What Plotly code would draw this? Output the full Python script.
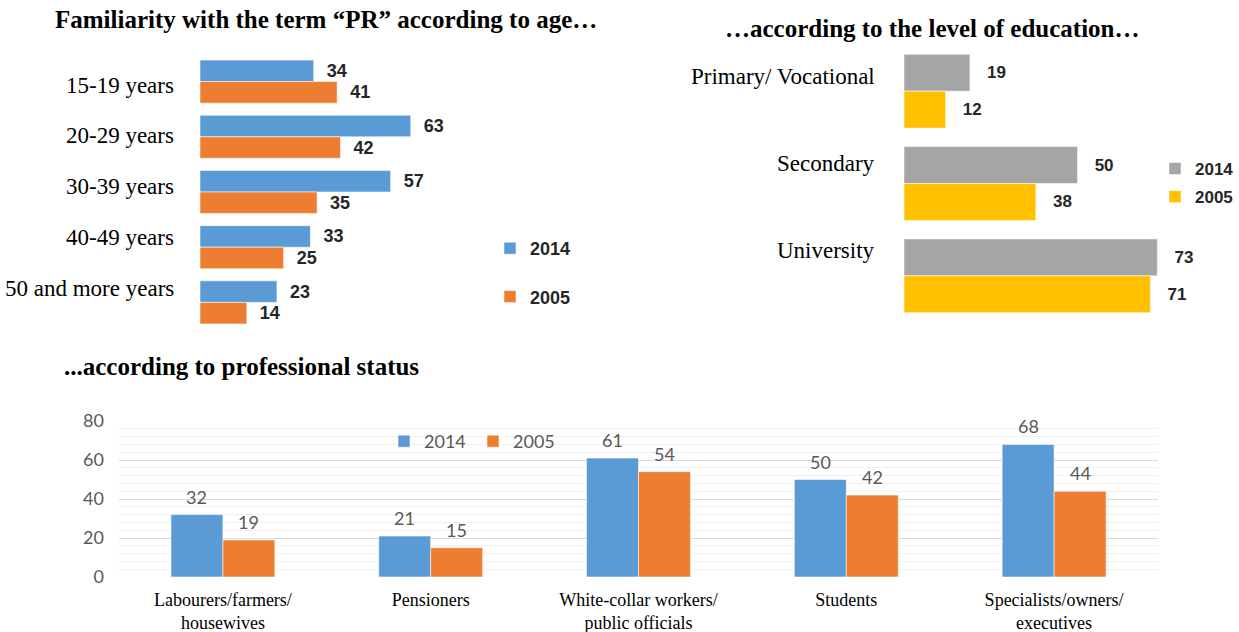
import plotly.graph_objects as go

W, H = 1239, 632

# ---- data -------------------------------------------------------------
years = ["2014", "2005"]

age_groups = ["15-19 years", "20-29 years", "30-39 years", "40-49 years", "50 and more years"]
age_2014 = [34, 63, 57, 33, 23]
age_2005 = [41, 42, 35, 25, 14]

edu_levels = ["Primary/ Vocational", "Secondary", "University"]
edu_2014 = [19, 50, 73]
edu_2005 = [12, 38, 71]

prof_groups = ["Labourers/farmers/<br>housewives", "Pensioners",
               "White-collar workers/<br>public officials", "Students",
               "Specialists/owners/<br>executives"]
prof_2014 = [32, 21, 61, 50, 68]
prof_2005 = [19, 15, 54, 42, 44]

# ---- styling ----------------------------------------------------------
BLUE, ORANGE = "#5B9BD5", "#ED7D31"
GREY, GOLD = "#A5A5A5", "#FFC000"
SERIF = "Liberation Serif, Times New Roman, serif"
SANS = "Liberation Sans, Arial, sans-serif"
CALI = "Lato, Carlito, Calibri, sans-serif"
NB = "\u00a0"


def px_x(p):
    return p / W


def px_y(p):
    return 1 - p / H


fig = go.Figure()

# ---- chart 1: by age (horizontal grouped bars) ------------------------
for name, vals, col, off in [(years[0], age_2014, BLUE, -0.39), (years[1], age_2005, ORANGE, 0.0)]:
    fig.add_trace(go.Bar(
        x=vals, y=age_groups, orientation="h", name=name,
        marker=dict(color=col, line=dict(color="rgba(255,255,255,0.55)", width=1)),
        width=0.39, offset=off,
        text=vals, texttemplate=NB * 2 + "%{text}", textposition="outside",
        textfont=dict(family=SANS, size=18, color="#262626", weight="bold"),
        cliponaxis=False, xaxis="x", yaxis="y",
        legend="legend", legendgroup="a" + name, hoverinfo="skip",
    ))

# ---- chart 2: by education -------------------------------------------
for name, vals, col, off in [(years[0], edu_2014, GREY, -0.4), (years[1], edu_2005, GOLD, 0.0)]:
    fig.add_trace(go.Bar(
        x=vals, y=edu_levels, orientation="h", name=name,
        marker=dict(color=col, line=dict(color="rgba(255,255,255,0.55)", width=1)),
        width=0.4, offset=off,
        text=vals, texttemplate=NB * 3 + "%{text}", textposition="outside",
        textfont=dict(family=SANS, size=17, color="#262626", weight="bold"),
        cliponaxis=False, xaxis="x2", yaxis="y2",
        legend="legend2", legendgroup="b" + name, hoverinfo="skip",
    ))

# ---- chart 3: by professional status (vertical grouped bars) ---------
for name, vals, col, off in [(years[0], prof_2014, BLUE, -0.25), (years[1], prof_2005, ORANGE, 0.0)]:
    fig.add_trace(go.Bar(
        x=prof_groups, y=vals, name=name,
        marker=dict(color=col, line=dict(color="rgba(255,255,255,0.55)", width=1)),
        width=0.25, offset=off,
        xaxis="x3", yaxis="y3", legend="legend3", hoverinfo="skip",
    ))

annotations = []

# value labels above the vertical bars
for vals, shift in [(prof_2014, -26), (prof_2005, 26)]:
    for cat, v in zip(prof_groups, vals):
        annotations.append(dict(
            x=cat, y=v, xref="x3", yref="y3", text=str(v), showarrow=False,
            xanchor="center", yanchor="bottom", xshift=shift, yshift=5,
            font=dict(family=CALI, size=18, color="#595959"),
        ))

# category labels of the two horizontal charts
for i, lab in enumerate(age_groups):
    annotations.append(dict(
        x=px_x(176), y=px_y(85 + i * 50.75), xref="paper", yref="paper",
        text=lab, showarrow=False, xanchor="right", yanchor="middle",
        font=dict(family=SERIF, size=23, color="#000000"),
    ))
for i, lab in enumerate(edu_levels):
    annotations.append(dict(
        x=px_x(877), y=px_y(77 + i * 86.5), xref="paper", yref="paper",
        text=lab, showarrow=False, xanchor="right", yanchor="middle",
        font=dict(family=SERIF, size=23, color="#000000"),
    ))

# headings
for txt, x, y, anchor in [
    ("Familiarity with the term “PR” according to age…", 326, 20, "center"),
    ("…according to the level of education…", 932, 28, "center"),
    ("...according to professional status", 62, 366, "left"),
]:
    annotations.append(dict(
        x=px_x(x), y=px_y(y), xref="paper", yref="paper", text=txt,
        showarrow=False, xanchor=anchor, yanchor="middle",
        font=dict(family=SERIF, size=25, color="#000000", weight="bold"),
    ))

hidden = dict(visible=False, automargin=False)

fig.update_layout(
    width=W, height=H, margin=dict(l=0, r=0, t=0, b=0, autoexpand=False),
    paper_bgcolor="white", plot_bgcolor="white",
    barmode="group", showlegend=True,
    xaxis=dict(domain=[px_x(200), px_x(200 + 75 * 3.345)], range=[0, 75], **hidden),
    yaxis=dict(domain=[px_y(330), px_y(54)], type="category",
               categoryorder="array", categoryarray=age_groups,
               autorange="reversed", **hidden),
    xaxis2=dict(domain=[px_x(904), px_x(904 + 80 * 3.47)], range=[0, 80], **hidden),
    yaxis2=dict(domain=[px_y(322), px_y(45)], type="category",
                categoryorder="array", categoryarray=edu_levels,
                autorange="reversed", **hidden),
    xaxis3=dict(domain=[px_x(119), px_x(1158)], type="category",
                categoryorder="array", categoryarray=prof_groups,
                showgrid=False, showline=False, zeroline=False, ticks="",
                ticklabelstandoff=10,
                tickfont=dict(family=SERIF, size=18, color="#000000"),
                automargin=False, anchor="y3"),
    yaxis3=dict(domain=[px_y(577), px_y(421)], range=[0, 80], dtick=20,
                showgrid=True, gridcolor="#D9D9D9", gridwidth=1,
                minor=dict(dtick=4, showgrid=True, gridcolor="#F0F0F0", gridwidth=1),
                zeroline=False, showline=False, ticks="", ticklabelstandoff=14,
                tickfont=dict(family=CALI, size=18, color="#595959"),
                automargin=False, anchor="x3"),
    legend=dict(x=px_x(490), y=px_y(230), xanchor="left", yanchor="top",
                orientation="v", tracegroupgap=22, bgcolor="rgba(0,0,0,0)",
                font=dict(family=SANS, size=18, color="#262626", weight="bold")),
    legend2=dict(x=px_x(1155), y=px_y(151), xanchor="left", yanchor="top",
                 orientation="v", tracegroupgap=3, bgcolor="rgba(0,0,0,0)",
                 font=dict(family=SANS, size=17, color="#262626", weight="bold")),
    legend3=dict(x=px_x(384), y=px_y(423), xanchor="left", yanchor="top",
                 orientation="h", entrywidth=44, bgcolor="rgba(0,0,0,0)",
                 font=dict(family=CALI, size=18, color="#595959")),
    annotations=annotations,
)

fig.write_html("out.html")
